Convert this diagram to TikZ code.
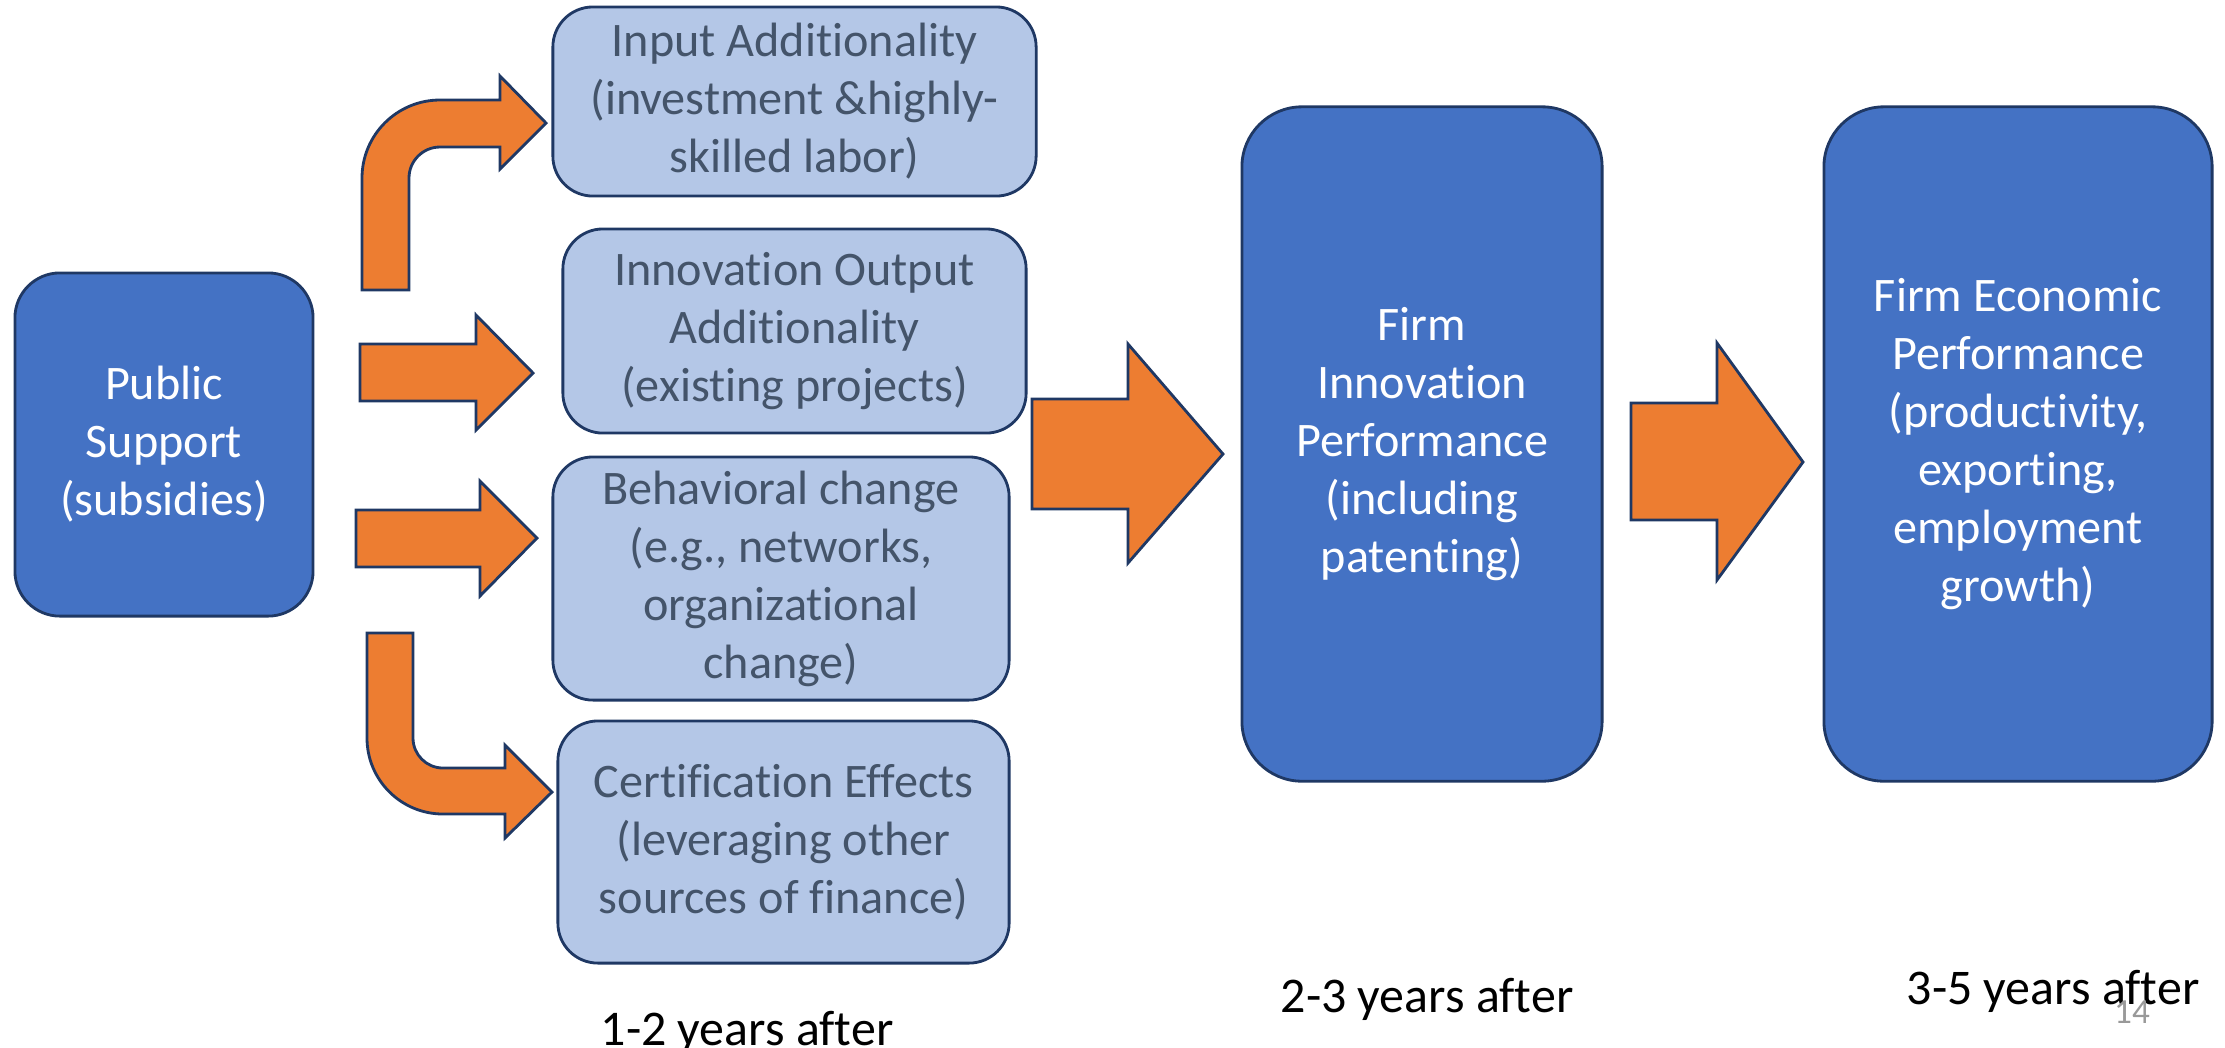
\documentclass[tikz,border=0pt]{standalone}
\usepackage{fontspec}
\setmainfont[Ligatures=NoCommon]{Carlito}
\usetikzlibrary{positioning}

\definecolor{boxblue}{HTML}{4472C4}
\definecolor{paleblue}{HTML}{B4C7E7}
\definecolor{edgeblue}{HTML}{1F3864}
\definecolor{slatetext}{HTML}{44546A}
\definecolor{arroworange}{HTML}{ED7D31}

\tikzset{
  mainbox/.style={draw=edgeblue, line width=0.8pt, fill=boxblue, text=white,
    rounded corners=0.45cm, align=center, inner sep=0pt,
    font=\fontsize{13.7}{16.5}\selectfont},
  effectbox/.style={mainbox, fill=paleblue, text=slatetext, rounded corners=0.4cm},
  firmbox/.style={mainbox, rounded corners=0.6cm},
  fatarrow/.style={draw=edgeblue, line width=0.8pt, fill=arroworange, line join=miter},
  yearlabel/.style={anchor=base, font=\fontsize{14.2}{17}\selectfont}
}

\begin{document}
\begin{tikzpicture}[x=0.01cm,y=-0.01cm]
\useasboundingbox (0,0) rectangle (2225,1047);

\node[mainbox, minimum width=2.98cm, minimum height=3.43cm] (support) at (164,444.5) {Public\\Support\\(subsidies)};

\node[effectbox, minimum width=4.83cm, minimum height=1.89cm] (input) at (794.5,101.5) {Input Additionality\\(investment \&highly-\\skilled labor)};
\node[effectbox, minimum width=4.63cm, minimum height=2.04cm] (output) at (794.5,331) {Innovation Output\\Additionality\\(existing projects)};
\node[effectbox, minimum width=4.56cm, minimum height=2.43cm] (behav) at (781,578.5) {Behavioral change\\(e.g., networks,\\organizational\\change)};
\node[effectbox, minimum width=4.51cm, minimum height=2.42cm] (cert) at (783.5,842) {Certification Effects\\(leveraging other\\sources of finance)};

\node[firmbox, minimum width=3.60cm, minimum height=6.74cm] (innov) at (1422,444) {Firm\\Innovation\\Performance\\(including\\patenting)};
\node[firmbox, minimum width=3.88cm, minimum height=6.74cm] (econ) at (2018,444) {Firm Economic\\Performance\\(productivity,\\exporting,\\employment\\growth)};

% bent arrows
\draw[fatarrow] (362,290) -- (362,178) arc[start angle=180,end angle=270,radius=78] -- (500,100) -- (500,76) -- (546,123) -- (500,169) -- (500,147) -- (440,147) arc[start angle=270,end angle=180,radius=31] -- (409,290) -- cycle;
\draw[fatarrow] (367,633) -- (367,738) arc[start angle=180,end angle=90,radius=76] -- (505,814) -- (505,838) -- (552,792) -- (505,745) -- (505,768) -- (443,768) arc[start angle=90,end angle=180,radius=30] -- (413,633) -- cycle;

% straight arrows
\draw[fatarrow] (360,344) -- (476,344) -- (476,315) -- (533,373) -- (476,430) -- (476,401) -- (360,401) -- cycle;
\draw[fatarrow] (356,510) -- (480,510) -- (480,481) -- (537,538) -- (480,596) -- (480,567) -- (356,567) -- cycle;
\draw[fatarrow] (1032,399) -- (1128,399) -- (1128,344) -- (1223,454) -- (1128,563) -- (1128,509) -- (1032,509) -- cycle;
\draw[fatarrow] (1631,403) -- (1717,403) -- (1717,343) -- (1803,462) -- (1717,580) -- (1717,520) -- (1631,520) -- cycle;

\node[yearlabel] (first) at (747,1045) {1-2 years after};
\node[yearlabel] (second) at (1427,1012) {2-3 years after};
\node[yearlabel] (third) at (2053,1004) {3-5 years after};
\node[anchor=base, text=gray!80, font=\fontsize{10}{12}\selectfont] (page) at (2132,1023) {14};
\end{tikzpicture}
\end{document}
